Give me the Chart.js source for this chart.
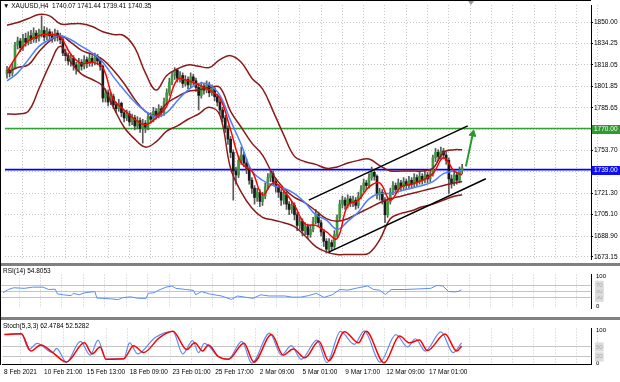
<!DOCTYPE html>
<html>
<head>
<meta charset="utf-8">
<script src="https://cdn.jsdelivr.net/npm/chart.js@4.4.1/dist/chart.umd.min.js"></script>
<style>
body { margin: 0; background: #fff; }
#wrap { position: relative; width: 620px; height: 382px; overflow: hidden; font-family: "Liberation Sans", Arial, sans-serif; }
canvas { position: absolute; left: 0; }
.txt { position: absolute; left: 3px; font-size: 6.5px; line-height: 8px; color: #000; white-space: pre; }
.sep { position: absolute; left: 0; width: 620px; height: 3px; background: #808080; }
</style>
</head>
<body>
<div id="wrap">
  <canvas id="main" width="620" height="264" style="top:0px"></canvas>
  <canvas id="rsi" width="620" height="51" style="top:266px"></canvas>
  <canvas id="sto" width="620" height="62" style="top:320px"></canvas>
  <div class="sep" style="top:263px"></div>
  <div class="sep" style="top:317px"></div>
  <div style="position:absolute;left:0;top:0;width:590px;height:364px;border-left:1px solid #000;border-top:1px solid #000;pointer-events:none"></div>
  <div style="position:absolute;left:468px;top:1px;width:0;height:0;border-left:3px solid transparent;border-right:3px solid transparent;border-top:4px solid #999"></div>
  <div class="txt" style="top:2px">▼ XAUUSD,H4  1740.07 1741.44 1739.41 1740.35</div>
  <div class="txt" style="top:267px">RSI(14) 54.8053</div>
  <div class="txt" style="top:322px">Stoch(5,3,3) 62.4784 52.5282</div>
</div>
<script>
// ---- price bars (H4, one per index) ----
const close = [1814,1812,1816,1833,1836,1831,1838,1835,1840,1837,
  1842,1838,1841,1844,1839,1843,1840,1838,1842,1839,
  1837,1827,1825,1821,1823,1818,1815,1820,1817,1822,
  1819,1823,1820,1824,1821,1817,1793,1797,1790,1794,
  1788,1785,1789,1782,1778,1781,1775,1778,1772,1776,
  1770,1774,1771,1779,1777,1783,1780,1785,1782,1790,
  1797,1805,1810,1814,1808,1810,1804,1807,1803,1809,
  1806,1801,1795,1802,1799,1803,1797,1800,1794,1790,
  1784,1778,1770,1762,1752,1738,1735,1746,1750,1744,
  1740,1731,1725,1718,1722,1715,1719,1726,1733,1736,
  1730,1726,1722,1716,1720,1713,1709,1712,1705,1697,
  1700,1693,1696,1690,1694,1700,1705,1699,1692,1685,
  1679,1684,1681,1690,1703,1713,1716,1712,1717,1714,
  1716,1712,1719,1724,1729,1727,1733,1737,1734,1720,
  1722,1716,1705,1715,1722,1727,1724,1729,1726,1730,
  1727,1731,1728,1733,1730,1734,1731,1735,1732,1736,
  1748,1752,1749,1753,1750,1746,1732,1729,1735,1731,1738,1740.35];
const high = [1817,1816,1819,1835,1839,1838,1841,1842,1843,1844,
  1846,1844,1845,1855,1847,1846,1845,1843,1845,1844,
  1842,1839,1830,1827,1826,1825,1820,1823,1822,1825,
  1824,1826,1825,1827,1826,1823,1818,1800,1799,1797,
  1796,1790,1792,1790,1784,1784,1783,1781,1780,1779,
  1778,1777,1776,1781,1782,1786,1785,1788,1787,1793,
  1800,1808,1813,1816,1815,1813,1812,1810,1809,1812,
  1811,1808,1803,1805,1804,1806,1805,1803,1802,1796,
  1792,1786,1780,1772,1764,1754,1741,1749,1756,1752,
  1747,1742,1733,1727,1725,1724,1722,1729,1736,1739,
  1738,1732,1728,1724,1723,1722,1715,1715,1714,1707,
  1703,1702,1699,1698,1697,1703,1709,1707,1701,1694,
  1687,1687,1686,1693,1705,1716,1719,1718,1720,1719,
  1719,1718,1722,1727,1732,1731,1736,1741,1739,1735,
  1725,1724,1718,1718,1725,1730,1729,1732,1731,1733,
  1732,1734,1733,1736,1735,1737,1736,1738,1737,1739,
  1750,1755,1754,1756,1755,1752,1748,1735,1738,1737,1741,1743];
const low = [1808,1809,1810,1815,1830,1828,1829,1832,1833,1834,
  1835,1835,1836,1839,1836,1837,1837,1835,1836,1836,
  1834,1825,1821,1818,1817,1814,1811,1813,1814,1815,
  1816,1817,1817,1818,1818,1814,1790,1790,1787,1788,
  1785,1782,1783,1779,1775,1776,1772,1773,1769,1770,
  1767,1759,1767,1769,1774,1775,1777,1778,1779,1780,
  1788,1795,1803,1807,1805,1805,1801,1802,1800,1801,
  1803,1798,1784,1793,1796,1797,1794,1795,1791,1787,
  1781,1775,1767,1758,1748,1716,1728,1733,1743,1741,
  1736,1728,1721,1713,1715,1711,1712,1717,1724,1730,
  1727,1722,1718,1712,1713,1709,1705,1706,1701,1693,
  1694,1689,1690,1687,1688,1692,1698,1696,1689,1681,
  1676,1676,1678,1679,1688,1701,1710,1709,1710,1711,
  1711,1709,1710,1717,1722,1724,1725,1731,1731,1717,
  1716,1713,1699,1703,1713,1720,1721,1722,1723,1724,
  1724,1725,1725,1726,1727,1728,1728,1729,1729,1730,
  1734,1745,1746,1747,1747,1743,1721,1725,1727,1728,1729,1736];
const firstOpen = 1811;

const maIdx = [0,4,8,12,16,20,24,28,32,36,40,44,48,52,56,60,64,68,72,76,80,84,88,92,96,100,104,108,112,116,120,124,128,132,136,140,144,148,152,156,160,164,168,171];
const maFast = [1813,1826,1836,1840,1841,1839,1826,1819,1820,1816,1792,1784,1777,1773,1778,1787,1807,1806,1803,1799,1793,1769,1744,1738,1720,1729,1723,1712,1698,1697,1692,1687,1712,1716,1726,1729,1716,1726,1728,1731,1736,1748,1738,1735];
const maSlow = [1806,1812,1822,1832,1837,1840,1837,1832,1827,1820,1809,1799,1790,1783,1779,1782,1791,1799,1804,1803,1795,1776,1758,1738,1731,1727,1725,1721,1714,1705,1701,1694,1700,1707,1717,1721,1721,1723,1725,1727,1730,1736,1738,1738];
const bbUp = [1848,1850,1853,1856,1855,1849,1849,1849,1847,1843,1841,1840,1831,1812,1799,1810,1815,1818,1817,1816,1822,1825,1820,1808,1800,1783,1765,1749,1745,1743,1740,1741,1744,1746,1747,1742,1738,1738,1738,1738,1740,1752,1754,1754];
const bbMid = [1812,1816,1818,1828,1836,1840,1835,1829,1826,1822,1814,1804,1792,1783,1780,1789,1794,1798,1799,1801,1801,1783,1771,1759,1750,1735,1725,1718,1714,1708,1702,1700,1702,1706,1710,1714,1717,1719,1721,1723,1725,1727,1729,1730];
const bbLo = [1781,1781,1783,1800,1818,1832,1820,1811,1807,1802,1786,1771,1762,1756,1760,1768,1772,1777,1781,1786,1780,1740,1722,1710,1703,1701,1699,1696,1689,1681,1677,1675,1675,1675,1676,1686,1702,1706,1708,1711,1713,1716,1719,1720];

const rsiIdx = [0,2,4,8,11,15,17,19.5,20.3,22.5,25.4,26.2,28.4,30.6,34.3,35,37.2,40.2,43.1,44.6,47.5,50.5,53.4,54.2,56.4,57.9,60.8,63,64.5,68.2,71.1,71.9,74.1,77,81.5,85.2,87.4,90.3,93.3,96.2,99.2,102.1,105.1,108,111,113.9,116.9,119.8,122.8,125.7,128.7,131.6,136,138.3,140.5,142.7,144.9,149.3,155.2,159.6,161.9,164.1,166.3,168.5,170,171];
const rsiVal = [45,56,62,60,64,64,56,57,41,38,35,43,38,45,49,27,26,24,22,28,31,26,26,43,45,53,64,68,60,56,53,38,49,41,34,22,34,30,26,38,34,34,34,30,30,35,43,29,38,56,54,60,68,56,54,39,56,56,58,60,70,68,49,48,50,54.8];

const stoKIdx = [0,6.3,9.2,12.2,18.1,19.5,23.2,28.4,32.1,35,38,40.2,44.6,46.8,49.8,56.4,63,66.7,70.4,72.6,74.8,80,83.7,88.8,92.5,99.2,103.6,107.3,111,116.9,120.6,125.7,130.9,134.6,140.5,146.4,150.8,153.7,157.4,163.3,167.8,171];
const stoKVal = [88,90,42,61,33,46,4,67,25,71,12.5,14,14,62.5,29,79,97.5,29,69,33,61,21,12.5,67,1,92,25,54,12.5,71,2.5,97.5,58,99,4,87.5,50,75,37.5,96,33,62.5];
const stoDIdx = [0,6.3,9.9,13.6,18.1,23.2,29.9,32.8,35.8,38,44.6,48.3,52,57.9,63,68.2,71.2,74.1,76.3,80,83.7,89.6,93.3,99.9,104.3,108,112.4,117.6,121.3,127.2,132.4,135.3,142,147.8,151.5,155.2,158.2,164.8,169.2,171];
const stoDVal = [88,90,37.5,56,33,4,62.5,29,50,12.5,14,54,33,77.5,97.5,42,62.5,37.5,56,21,12.5,61,4,87.5,25,44,17,67,8,96,62.5,97.5,1.7,83,62.5,71,39,89,37.5,52.5];

// ---- levels, drawings, axis labels ----
const levelGreen = 1770.00;
const levelBlue = 1739.00;
const channelUpper = [[113.4, 1716], [173.1, 1772]];
const channelLower = [[120.9, 1676.8], [179.9, 1732.1]];
const arrowPath = [[172.4, 1741.5], [175.0, 1766]];
const priceTicks = [1850.00, 1834.25, 1818.05, 1801.85, 1785.65, 1769.45, 1753.70, 1737.50, 1721.30, 1705.10, 1688.90, 1673.15];
const timeLabels = ['8 Feb 2021', '10 Feb 21:00', '15 Feb 13:00', '18 Feb 09:00', '23 Feb 01:00', '25 Feb 17:00', '2 Mar 09:00', '5 Mar 01:00', '9 Mar 17:00', '12 Mar 09:00', '17 Mar 01:00'];
const rsiLevels = [30, 50, 70];
const stoLevels = [20, 50];

const xMin = -0.75, xMax = 219.4;
const gridTicks = [];
for (let k = 0; k < 28; k++) gridTicks.push(6 + 8 * k);
const labelAt = {};
timeLabels.forEach((t, k) => { labelAt[6 + 16 * k] = t; });

const fam = '"Liberation Sans", Arial, sans-serif';
const gridCol = '#c6c6c6';

const open = [firstOpen, ...close.slice(0, -1)];
const pts = (xs, ys) => xs.map((x, k) => ({ x: x, y: ys[k] }));
const pairPts = (arr) => arr.map(p => ({ x: p[0], y: p[1] }));

function lineDs(data, color, width, order, extra) {
  return Object.assign({ type: 'line', data: data, borderColor: color, borderWidth: width,
    pointRadius: 0, fill: false, tension: 0, order: order }, extra || {});
}

function xAxis(withLabels) {
  return {
    type: 'linear', min: xMin, max: xMax, offset: false,
    afterBuildTicks: s => { s.ticks = gridTicks.map(v => ({ value: v })); },
    grid: { color: gridCol, drawTicks: false, offset: false },
    border: { display: withLabels, color: '#000', dash: [1, 2] },
    ticks: withLabels
      ? { autoSkip: false, maxRotation: 0, padding: 4, color: '#000', font: { size: 6.5, family: fam },
          callback: v => labelAt[v] || '' }
      : { display: false },
    afterFit: s => { s.height = withLabels ? 18 : 0; }
  };
}

function levelAxis(min, max, levels) {
  return {
    position: 'right', min: min, max: max,
    afterBuildTicks: s => { s.ticks = [0, ...levels, 100].map(v => ({ value: v })); },
    afterFit: s => { s.width = 29; },
    grid: { color: c => levels.includes(c.tick && c.tick.value) ? '#c4c4c4' : 'rgba(0,0,0,0)', drawTicks: false },
    border: { color: '#000' },
    ticks: {
      padding: 5, font: { size: 6, family: fam },
      color: c => levels.includes(c.tick.value) ? '#aaa' : '#000',
      showLabelBackdrop: true, backdropPadding: 1,
      backdropColor: c => levels.includes(c.tick.value) ? '#dcdcdc' : 'rgba(0,0,0,0)'
    }
  };
}

const baseOpts = {
  responsive: false, devicePixelRatio: 1, animation: false, events: [],
  plugins: { legend: { display: false }, tooltip: { enabled: false } }
};

// price tags on the right axis for the two horizontal levels
const priceTags = {
  id: 'priceTags',
  afterDraw(chart) {
    const y = chart.scales.y, ctx = chart.ctx;
    [[levelGreen, '#2f9a2f'], [levelBlue, '#1010ee']].forEach(([v, col]) => {
      const py = Math.round(y.getPixelForValue(v));
      ctx.save();
      ctx.fillStyle = col;
      ctx.fillRect(592, py - 4, 28, 9);
      ctx.fillStyle = '#fff';
      ctx.font = '6.5px ' + fam;
      ctx.textBaseline = 'middle';
      ctx.fillText(v.toFixed(2), 594, py + 0.5);
      ctx.restore();
    });
  }
};

// ---- main price panel ----
new Chart(document.getElementById('main'), {
  type: 'bar',
  data: {
    datasets: [
      lineDs(pairPts(arrowPath), '#2a9a2a', 2, 0, {
        pointRadius: [0, 4], pointStyle: 'triangle', pointRotation: 12,
        pointBackgroundColor: '#2a9a2a', pointBorderColor: '#2a9a2a', pointBorderWidth: 1 }),
      lineDs(pairPts(channelUpper), '#000', 1.5, 1),
      lineDs(pairPts(channelLower), '#000', 1.5, 1),
      lineDs(pts(maIdx, maFast), '#ff0000', 1.5, 2, { tension: 0.4 }),
      lineDs(pts(maIdx, maSlow), '#4f7fff', 1.5, 3, { tension: 0.4 }),
      lineDs(pts(maIdx, bbUp), '#8b1a1a', 1.5, 4, { tension: 0.4 }),
      lineDs(pts(maIdx, bbMid), '#8b1a1a', 1.5, 4, { tension: 0.4 }),
      lineDs(pts(maIdx, bbLo), '#8b1a1a', 1.5, 4, { tension: 0.4 }),
      {
        type: 'bar', order: 5, grouped: false, barThickness: 2, minBarLength: 1, borderWidth: 0,
        data: close.map((c, i) => ({ x: i, y: [open[i], c] })),
        backgroundColor: close.map((c, i) => c >= open[i] ? '#3c9b3c' : '#1a1a1a')
      },
      {
        type: 'bar', order: 6, grouped: false, barThickness: 1, borderWidth: 0,
        data: close.map((c, i) => ({ x: i, y: [low[i], high[i]] })),
        backgroundColor: '#5a5a5a'
      },
      lineDs(pts([xMin, xMax], [levelGreen, levelGreen]), '#33a033', 1.5, 7),
      lineDs(pts([xMin, xMax], [levelBlue, levelBlue]), '#0000ff', 1.8, 7)
    ]
  },
  options: Object.assign({}, baseOpts, {
    layout: { padding: { left: 1, top: 2, right: 0, bottom: 2 } },
    scales: {
      x: xAxis(false),
      y: {
        position: 'right', min: 1671.6, max: 1863.2,
        afterBuildTicks: s => { s.ticks = priceTicks.map(v => ({ value: v })); },
        afterFit: s => { s.width = 29; },
        grid: { color: gridCol, drawTicks: true, tickLength: 2, tickColor: '#000', tickBorderDash: [] },
        border: { color: '#000', dash: [1, 2] },
        ticks: { padding: 1, color: '#000', font: { size: 6.5, family: fam }, callback: v => Number(v).toFixed(2) }
      }
    }
  }),
  plugins: [priceTags]
});

// ---- RSI panel ----
new Chart(document.getElementById('rsi'), {
  type: 'line',
  data: { datasets: [lineDs(pts(rsiIdx, rsiVal), '#5b8def', 1, 0)] },
  options: Object.assign({}, baseOpts, {
    layout: { padding: { left: 1, top: 0, right: 0, bottom: 0 } },
    scales: { x: xAxis(false), y: levelAxis(-8.35, 106.8, rsiLevels) }
  })
});

// ---- Stochastic panel ----
new Chart(document.getElementById('sto'), {
  type: 'line',
  data: {
    datasets: [
      lineDs(pts(stoDIdx, stoDVal), '#ff0000', 1.5, 0, { cubicInterpolationMode: 'monotone' }),
      lineDs(pts(stoKIdx, stoKVal), '#5b8def', 1.2, 1, { cubicInterpolationMode: 'monotone' })
    ]
  },
  options: Object.assign({}, baseOpts, {
    layout: { padding: { left: 1, top: 1, right: 0, bottom: 0 } },
    scales: { x: xAxis(true), y: levelAxis(-1.75, 105.75, stoLevels) }
  })
});
</script>
</body>
</html>
